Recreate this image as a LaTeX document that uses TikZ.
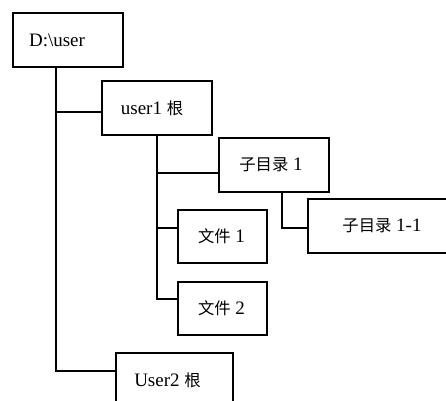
\documentclass[tikz,border=0pt]{standalone}
\usepackage{fontspec}
\setmainfont{Liberation Serif}
\newfontfamily\cjk[Scale=0.86]{Noto Sans CJK SC}
\begin{document}
\begin{tikzpicture}[x=1pt,y=-1pt,
  box/.style={draw=black,line width=1.6pt,fill=white,inner sep=0pt,
    minimum height=54pt,font=\fontsize{19}{22}\selectfont},
  conn/.style={line width=1.6pt,line cap=rect}]
\useasboundingbox (0,0) rectangle (446,400);
\clip (0,0) rectangle (446,400);
\fill[white] (0,0) rectangle (446,400);
\node[box,minimum width=110pt] (D) at (68,40) {D:\textbackslash user\kern22pt};
\node[box,minimum width=110pt] (U1) at (157,108) {user1 {\cjk 根}\kern10pt};
\node[box,minimum width=110pt] (S1) at (274,165) {{\cjk 子目录} 1\kern6pt};
\node[box,minimum width=148pt] (S11) at (382,226) {{\cjk 子目录} 1-1};
\node[box,minimum width=89pt,minimum height=53pt] (F1) at (222.5,236.5) {{\cjk 文件} 1\kern2pt};
\node[box,minimum width=89pt,minimum height=53pt] (F2) at (222.5,308.5) {{\cjk 文件} 2\kern2pt};
\node[box,minimum width=117pt] (U2) at (174.5,380) {User2 {\cjk 根}\kern14pt};
% connectors
\draw[conn] ([xshift=-12pt]D.south) |- ([yshift=9pt]U2.west);
\draw[conn] ([xshift=-12pt]D.south |- U1.west) ++(0,4) -- ([yshift=-4pt]U1.west);
\draw[conn] (U1.south) |- ([yshift=9.5pt]F2.west);
\draw[conn] (U1.south |- S1.west) ++(0,8) -- ([yshift=-8pt]S1.west);
\draw[conn] (U1.south |- F1.west) ++(0,-8.5) -- ([yshift=8.5pt]F1.west);
\draw[conn] ([xshift=8pt]S1.south) |- ([yshift=-2pt]S11.west);
\end{tikzpicture}
\end{document}
